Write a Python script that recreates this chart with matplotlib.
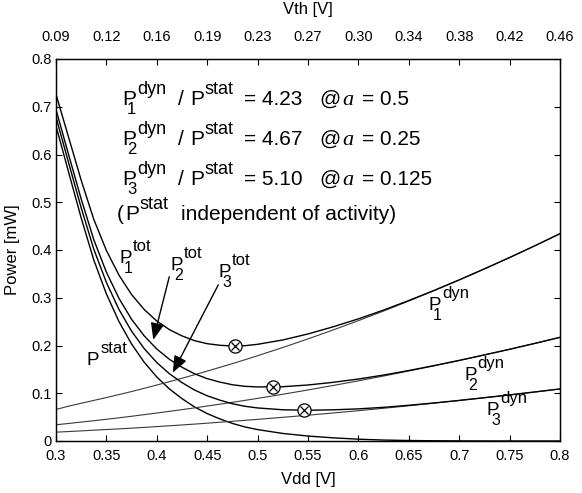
import matplotlib
matplotlib.use('Agg')
import matplotlib.pyplot as plt
from matplotlib.transforms import offset_copy
import numpy as np

plt.rcParams['font.family'] = ['Liberation Sans', 'DejaVu Sans']

# supply voltage grid [V]
vdd = [0.3, 0.3125, 0.325, 0.3375, 0.35, 0.3625, 0.375, 0.3875, 0.4, 0.4125,
       0.425, 0.4375, 0.45, 0.4625, 0.475, 0.4875, 0.5, 0.525, 0.55, 0.575,
       0.6, 0.625, 0.65, 0.675, 0.7, 0.725, 0.75, 0.775, 0.8]

# static power [mW] (independent of activity)
p_stat = [0.660, 0.563, 0.467, 0.379, 0.308, 0.250, 0.203, 0.165, 0.134, 0.109,
          0.0887, 0.0713, 0.0574, 0.0463, 0.0368, 0.0294, 0.0239, 0.0158, 0.0104, 0.0066,
          0.0038, 0.0020, 0.0010, 0.0005, 0.0002, 0.0001, 0.0, 0.0, 0.0]

# dynamic power [mW] for a = 0.5, 0.25, 0.125
p_dyn1 = [0.066, 0.0730, 0.0790, 0.0850, 0.0910, 0.0972, 0.1036, 0.1104, 0.1172, 0.1242,
          0.1314, 0.1388, 0.1464, 0.1542, 0.1620, 0.1702, 0.1786, 0.1958, 0.2138, 0.2326,
          0.2520, 0.2722, 0.2932, 0.3148, 0.3372, 0.3604, 0.3842, 0.4088, 0.4342]
p_dyn2 = [0.034, 0.0367, 0.0396, 0.0425, 0.0455, 0.0486, 0.0518, 0.0552, 0.0586, 0.0621,
          0.0657, 0.0694, 0.0732, 0.0771, 0.0810, 0.0851, 0.0893, 0.0979, 0.1069, 0.1163,
          0.1260, 0.1361, 0.1466, 0.1574, 0.1686, 0.1802, 0.1921, 0.2044, 0.2171]
p_dyn3 = [0.0185, 0.0198, 0.0212, 0.0226, 0.0240, 0.0254, 0.0269, 0.0285, 0.0302, 0.0319,
          0.0336, 0.0354, 0.0373, 0.0393, 0.0412, 0.0433, 0.0453, 0.0496, 0.0540, 0.0587,
          0.0635, 0.0685, 0.0738, 0.0792, 0.0848, 0.0906, 0.0965, 0.1027, 0.1090]

# optimum points (min of total power)
opt_vdd = [0.478, 0.515, 0.546]
opt_power = [0.199, 0.114, 0.064]

ratios = ['4.23', '4.67', '5.10']
activities = ['0.5', '0.25', '0.125']

vdd_ticks = [0.3, 0.35, 0.4, 0.45, 0.5, 0.55, 0.6, 0.65, 0.7, 0.75, 0.8]
vdd_labels = ['0.3', '0.35', '0.4', '0.45', '0.5', '0.55', '0.6', '0.65', '0.7', '0.75', '0.8']
vth_labels = ['0.09', '0.12', '0.16', '0.19', '0.23', '0.27', '0.30', '0.34', '0.38', '0.42', '0.46']
power_ticks = [0, 0.1, 0.2, 0.3, 0.4, 0.5, 0.6, 0.7, 0.8]
power_labels = ['0', '0.1', '0.2', '0.3', '0.4', '0.5', '0.6', '0.7', '0.8']

v = np.array(vdd)
ps = np.array(p_stat)
dyn = [np.array(p_dyn1), np.array(p_dyn2), np.array(p_dyn3)]

fig = plt.figure(figsize=(5.82, 4.93), dpi=100)
ax = fig.add_axes([56 / 582, 1 - 441 / 493, 504 / 582, 382 / 493])

# static, dynamic and total power curves
ax.plot(v, ps, color='black', lw=1.0)
for d in dyn:
    ax.plot(v, d, color='#3a3a3a', lw=0.8)
    ax.plot(v, ps + d, color='black', lw=1.0)

# optimum markers (circle with cross)
ax.plot(opt_vdd, opt_power, 'o', ms=9.5, mfc='white', mec='black', mew=0.9, zorder=5)
ax.plot(opt_vdd, opt_power, 'x', ms=6, mec='black', mew=0.9, zorder=6)

ax.set_xlim(0.3, 0.8)
ax.set_ylim(0, 0.8)
ax.set_xticks(vdd_ticks)
ax.set_xticklabels(vdd_labels)
ax.set_yticks(power_ticks)
ax.set_yticklabels(power_labels)
ax.tick_params(direction='in', length=4, labelsize=10.5, right=True, width=0.8)
ax.tick_params(axis='x', pad=6)
ax.tick_params(axis='y', pad=3)
ax.set_xlabel('Vdd [V]', fontsize=12, labelpad=6)
ax.set_ylabel('Power [mW]', fontsize=12, labelpad=8)

ax2 = ax.twiny()
ax2.set_xlim(ax.get_xlim())
ax2.set_xticks(vdd_ticks)
ax2.set_xticklabels(vth_labels)
ax2.tick_params(direction='in', length=4, labelsize=10.5, pad=11, width=0.8)
ax2.set_xlabel('Vth [V]', fontsize=12, labelpad=11)

for a in (ax, ax2):
    for s in a.spines.values():
        s.set_linewidth(0.9)

renderer = fig.canvas.get_renderer()


def piece(x, y, dx, s, size, rise=0, **kw):
    """put a text piece at data (x, y) shifted by dx, rise pixels; return its width"""
    tr = offset_copy(ax.transData, fig=fig, x=dx, y=rise, units='dots')
    t = ax.text(x, y, s, transform=tr, fontsize=size, ha='left', va='baseline', **kw)
    return t.get_window_extent(renderer=renderer).width


def p_label(x, y, dx, sub, sup, size, ssize, subsize, rise, drop):
    """P with stacked subscript and superscript, returns the new dx"""
    w = piece(x, y, dx, 'P', size)
    if sub:
        piece(x, y, dx + 0.35 * w, sub, subsize, -drop)
    ws = piece(x, y, dx + w + 1, sup, ssize, rise)
    return dx + w + 1 + ws


# ratio text block
F, S, SB = 15, 13, 12
x0 = 0.3655
line_y = [0.7037, 0.6199, 0.5359]
for i in range(3):
    y = line_y[i]
    dx = p_label(x0, y, 0, str(i + 1), 'dyn', F, S, SB, 11, 9)
    dx += 12
    dx += piece(x0, y, dx, '/', F) + 6
    dx = p_label(x0, y, dx, None, 'stat', F, S, SB, 11, 9)
    dx += 10
    dx += piece(x0, y, dx, '= ' + ratios[i], F) + 17
    dx += piece(x0, y, dx, '@', F) + 2
    dx += piece(x0, y, dx, 'a', F + 1, family='Liberation Serif', style='italic') + 8
    piece(x0, y, dx, '= ' + activities[i], F)

x4, y4 = 0.3605, 0.4628
dx = piece(x4, y4, 0, '(', F) + 1
dx = p_label(x4, y4, dx, None, 'stat', F, S, SB, 11, 9)
dx += 12
piece(x4, y4, dx, 'independent of activity)', F)

# curve labels: (x, y, subscript, superscript)
labels = [
    (0.3628, 0.372, '1', 'tot'),
    (0.4131, 0.358, '2', 'tot'),
    (0.4610, 0.344, '3', 'tot'),
    (0.3305, 0.159, None, 'stat'),
    (0.6693, 0.275, '1', 'dyn'),
    (0.7048, 0.128, '2', 'dyn'),
    (0.7273, 0.054, '3', 'dyn'),
]
for lx, ly, sb, sp in labels:
    p_label(lx, ly, 0, sb, sp, 13.5, 12, 11.5, 12, 10)

# arrows from labels to curves
arrow_kw = dict(arrowstyle='-|>,head_length=0.6,head_width=0.24', color='black',
                lw=1.0, mutation_scale=17, shrinkA=0, shrinkB=0)
ax.annotate('', xy=(0.3965, 0.212), xytext=(0.4124, 0.344), arrowprops=arrow_kw)
ax.annotate('', xy=(0.4158, 0.143), xytext=(0.4610, 0.327), arrowprops=arrow_kw)

fig.savefig('out.png', dpi=100)
